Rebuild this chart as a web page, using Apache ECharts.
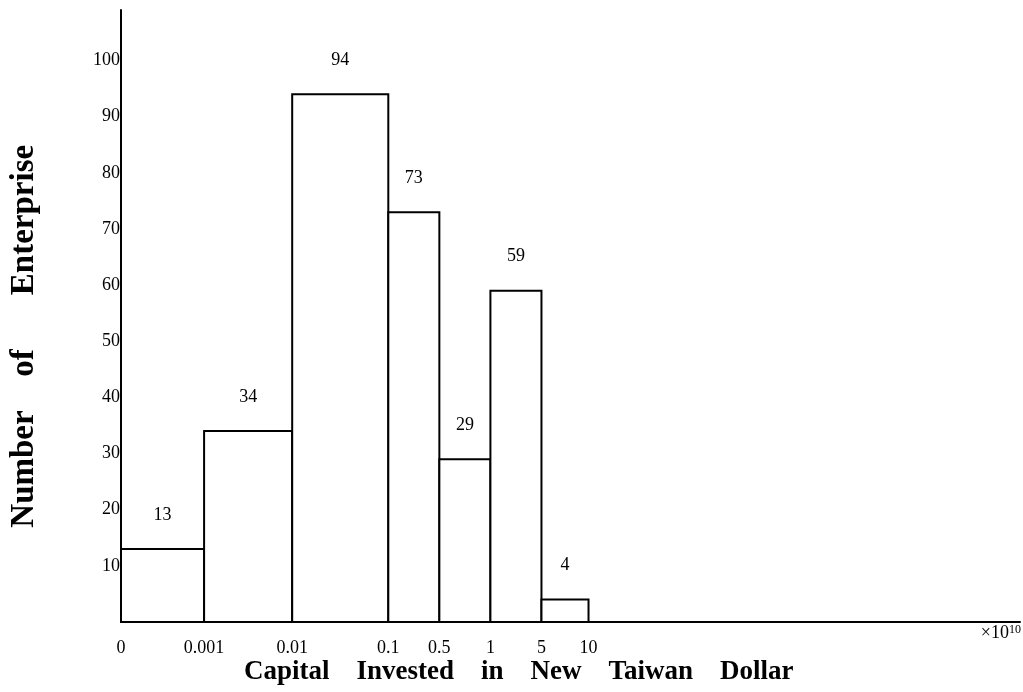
<!DOCTYPE html>
<html>
<head>
<meta charset="utf-8">
<script src="https://cdn.jsdelivr.net/npm/echarts@6/dist/echarts.min.js"></script>
<style>
  html, body { margin: 0; padding: 0; background: #fff; }
  #main { width: 1023px; height: 692px; }
</style>
</head>
<body>
<div id="main"></div>
<script>
// bin edges (labels) and where each edge sits along the hand-drawn axis
const binLabels = ['0', '0.001', '0.01', '0.1', '0.5', '1', '5', '10'];
const edgePos = [0, 8.3, 17.1, 26.7, 31.8, 36.9, 42.0, 46.7];
const axisEnd = 89.8;
// number of enterprises per bin
const counts = [13, 34, 94, 73, 29, 59, 4];
const yTicks = [10, 20, 30, 40, 50, 60, 70, 80, 90, 100];

const FONT = '"Liberation Serif", "DejaVu Serif", serif';

const bins = counts.map((c, i) => [edgePos[i], edgePos[i + 1], c]);

const chart = echarts.init(document.getElementById('main'), null, { renderer: 'canvas' });

// rotated words of the y axis title, spread out like the scan
function yWord(text, cy) {
  return {
    type: 'text',
    x: 24,
    y: cy,
    rotation: Math.PI / 2,
    style: {
      text: text,
      fontFamily: FONT,
      fontWeight: 'bold',
      fontSize: 33,
      fill: '#000',
      align: 'center',
      verticalAlign: 'middle'
    }
  };
}

chart.setOption({
  backgroundColor: '#fff',
  animation: false,
  grid: { left: 121, right: 3, top: 10, bottom: 70 },
  xAxis: {
    type: 'value',
    min: 0,
    max: axisEnd,
    splitLine: { show: false },
    axisTick: { show: false },
    axisLine: { lineStyle: { color: '#000', width: 2 } },
    axisLabel: {
      customValues: edgePos,
      formatter: (v) => {
        const i = edgePos.indexOf(v);
        return i >= 0 ? binLabels[i] : '';
      },
      margin: 17,
      color: '#000',
      fontFamily: FONT,
      fontSize: 18
    }
  },
  yAxis: {
    type: 'value',
    min: 0,
    max: 109,
    splitLine: { show: false },
    axisTick: { show: false },
    axisLine: { show: true, lineStyle: { color: '#000', width: 2 } },
    axisLabel: {
      customValues: yTicks,
      margin: 1,
      padding: [4, 0, 0, 0],
      color: '#000',
      fontFamily: FONT,
      fontSize: 18
    }
  },
  series: [
    {
      type: 'custom',
      data: bins,
      encode: { x: [0, 1], y: 2 },
      renderItem: (params, api) => {
        const top = api.coord([api.value(0), api.value(2)]);
        const bottom = api.coord([api.value(1), 0]);
        return {
          type: 'rect',
          shape: {
            x: top[0],
            y: top[1],
            width: bottom[0] - top[0],
            height: bottom[1] - top[1]
          },
          style: { fill: '#fff', stroke: '#000', lineWidth: 2 },
          textContent: {
            style: {
              text: String(api.value(2)),
              fontFamily: FONT,
              fontSize: 18,
              fill: '#000'
            }
          },
          textConfig: { position: 'top', distance: 24 }
        };
      }
    }
  ],
  graphic: [
    yWord('Enterprise', 220),
    yWord('of', 363),
    yWord('Number', 469),
    {
      type: 'text',
      left: 244,
      top: 659,
      style: {
        text: 'Capital    Invested    in    New    Taiwan    Dollar',
        fontFamily: FONT,
        fontWeight: 'bold',
        fontSize: 27,
        fill: '#000'
      }
    },
    {
      type: 'text',
      right: 2,
      top: 624,
      style: {
        text: '×10{s|10}',
        fontFamily: FONT,
        fontSize: 18,
        fill: '#000',
        rich: {
          s: { fontFamily: FONT, fontSize: 12, verticalAlign: 'top', fill: '#000' }
        }
      }
    }
  ]
});
</script>
</body>
</html>
